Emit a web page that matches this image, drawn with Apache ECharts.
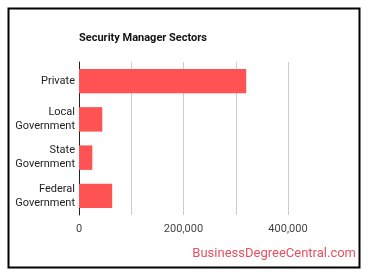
<!DOCTYPE html>
<html>
<head>
<meta charset="utf-8">
<script src="https://cdn.jsdelivr.net/npm/echarts@6/dist/echarts.min.js"></script>
<style>
html,body{margin:0;padding:0;background:#fff;}
#chart{width:370px;height:278px;}
</style>
</head>
<body>
<div id="chart"></div>
<script>
var sectors = ['Private', 'Local\nGovernment', 'State\nGovernment', 'Federal\nGovernment'];
var employees = [320000, 44500, 25500, 63500];
var xTicks = [0, 200000, 400000];

var myChart = echarts.init(document.getElementById('chart'));
var option = {
	animation: false,
	backgroundColor: '#fff',
	title: {
		text: 'Security Manager Sectors',
		left: 74,
		top: 28,
		textStyle: {
			fontFamily: 'Roboto',
			fontSize: 11,
			fontWeight: 'bold',
			color: '#111'
		}
	},
	graphic: [
		{
			type: 'rect',
			shape: { x: 8.5, y: 8.5, width: 351, height: 259 },
			style: { fill: 'none', stroke: '#000', lineWidth: 2 },
			silent: true
		},
		{
			type: 'text',
			right: 14,
			top: 247,
			style: {
				text: 'BusinessDegreeCentral.com',
				font: '13px Roboto',
				fill: '#e8505f'
			}
		}
	],
	grid: {
		left: 79,
		top: 62,
		width: 209,
		height: 153,
		containLabel: false
	},
	xAxis: {
		type: 'value',
		min: 0,
		max: 400000,
		interval: 100000,
		axisLine: { show: false },
		axisTick: { show: false },
		splitLine: { lineStyle: { color: '#ccc', width: 1 } },
		axisLabel: {
			margin: 9,
			fontFamily: 'Roboto',
			fontSize: 11,
			color: '#444',
			formatter: function (v) {
				return xTicks.indexOf(v) >= 0 ? v.toLocaleString('en-US') : '';
			}
		}
	},
	yAxis: {
		type: 'category',
		inverse: true,
		data: sectors,
		axisLine: { show: true, lineStyle: { color: '#222', width: 1 } },
		axisTick: { show: false },
		axisLabel: {
			margin: 4,
			fontFamily: 'Roboto',
			fontSize: 11,
			lineHeight: 14,
			color: '#222'
		}
	},
	series: [{
		type: 'bar',
		data: employees,
		barWidth: '64%',
		itemStyle: { color: '#ff5252' }
	}]
};
myChart.setOption(option, true);
</script>
</body>
</html>
